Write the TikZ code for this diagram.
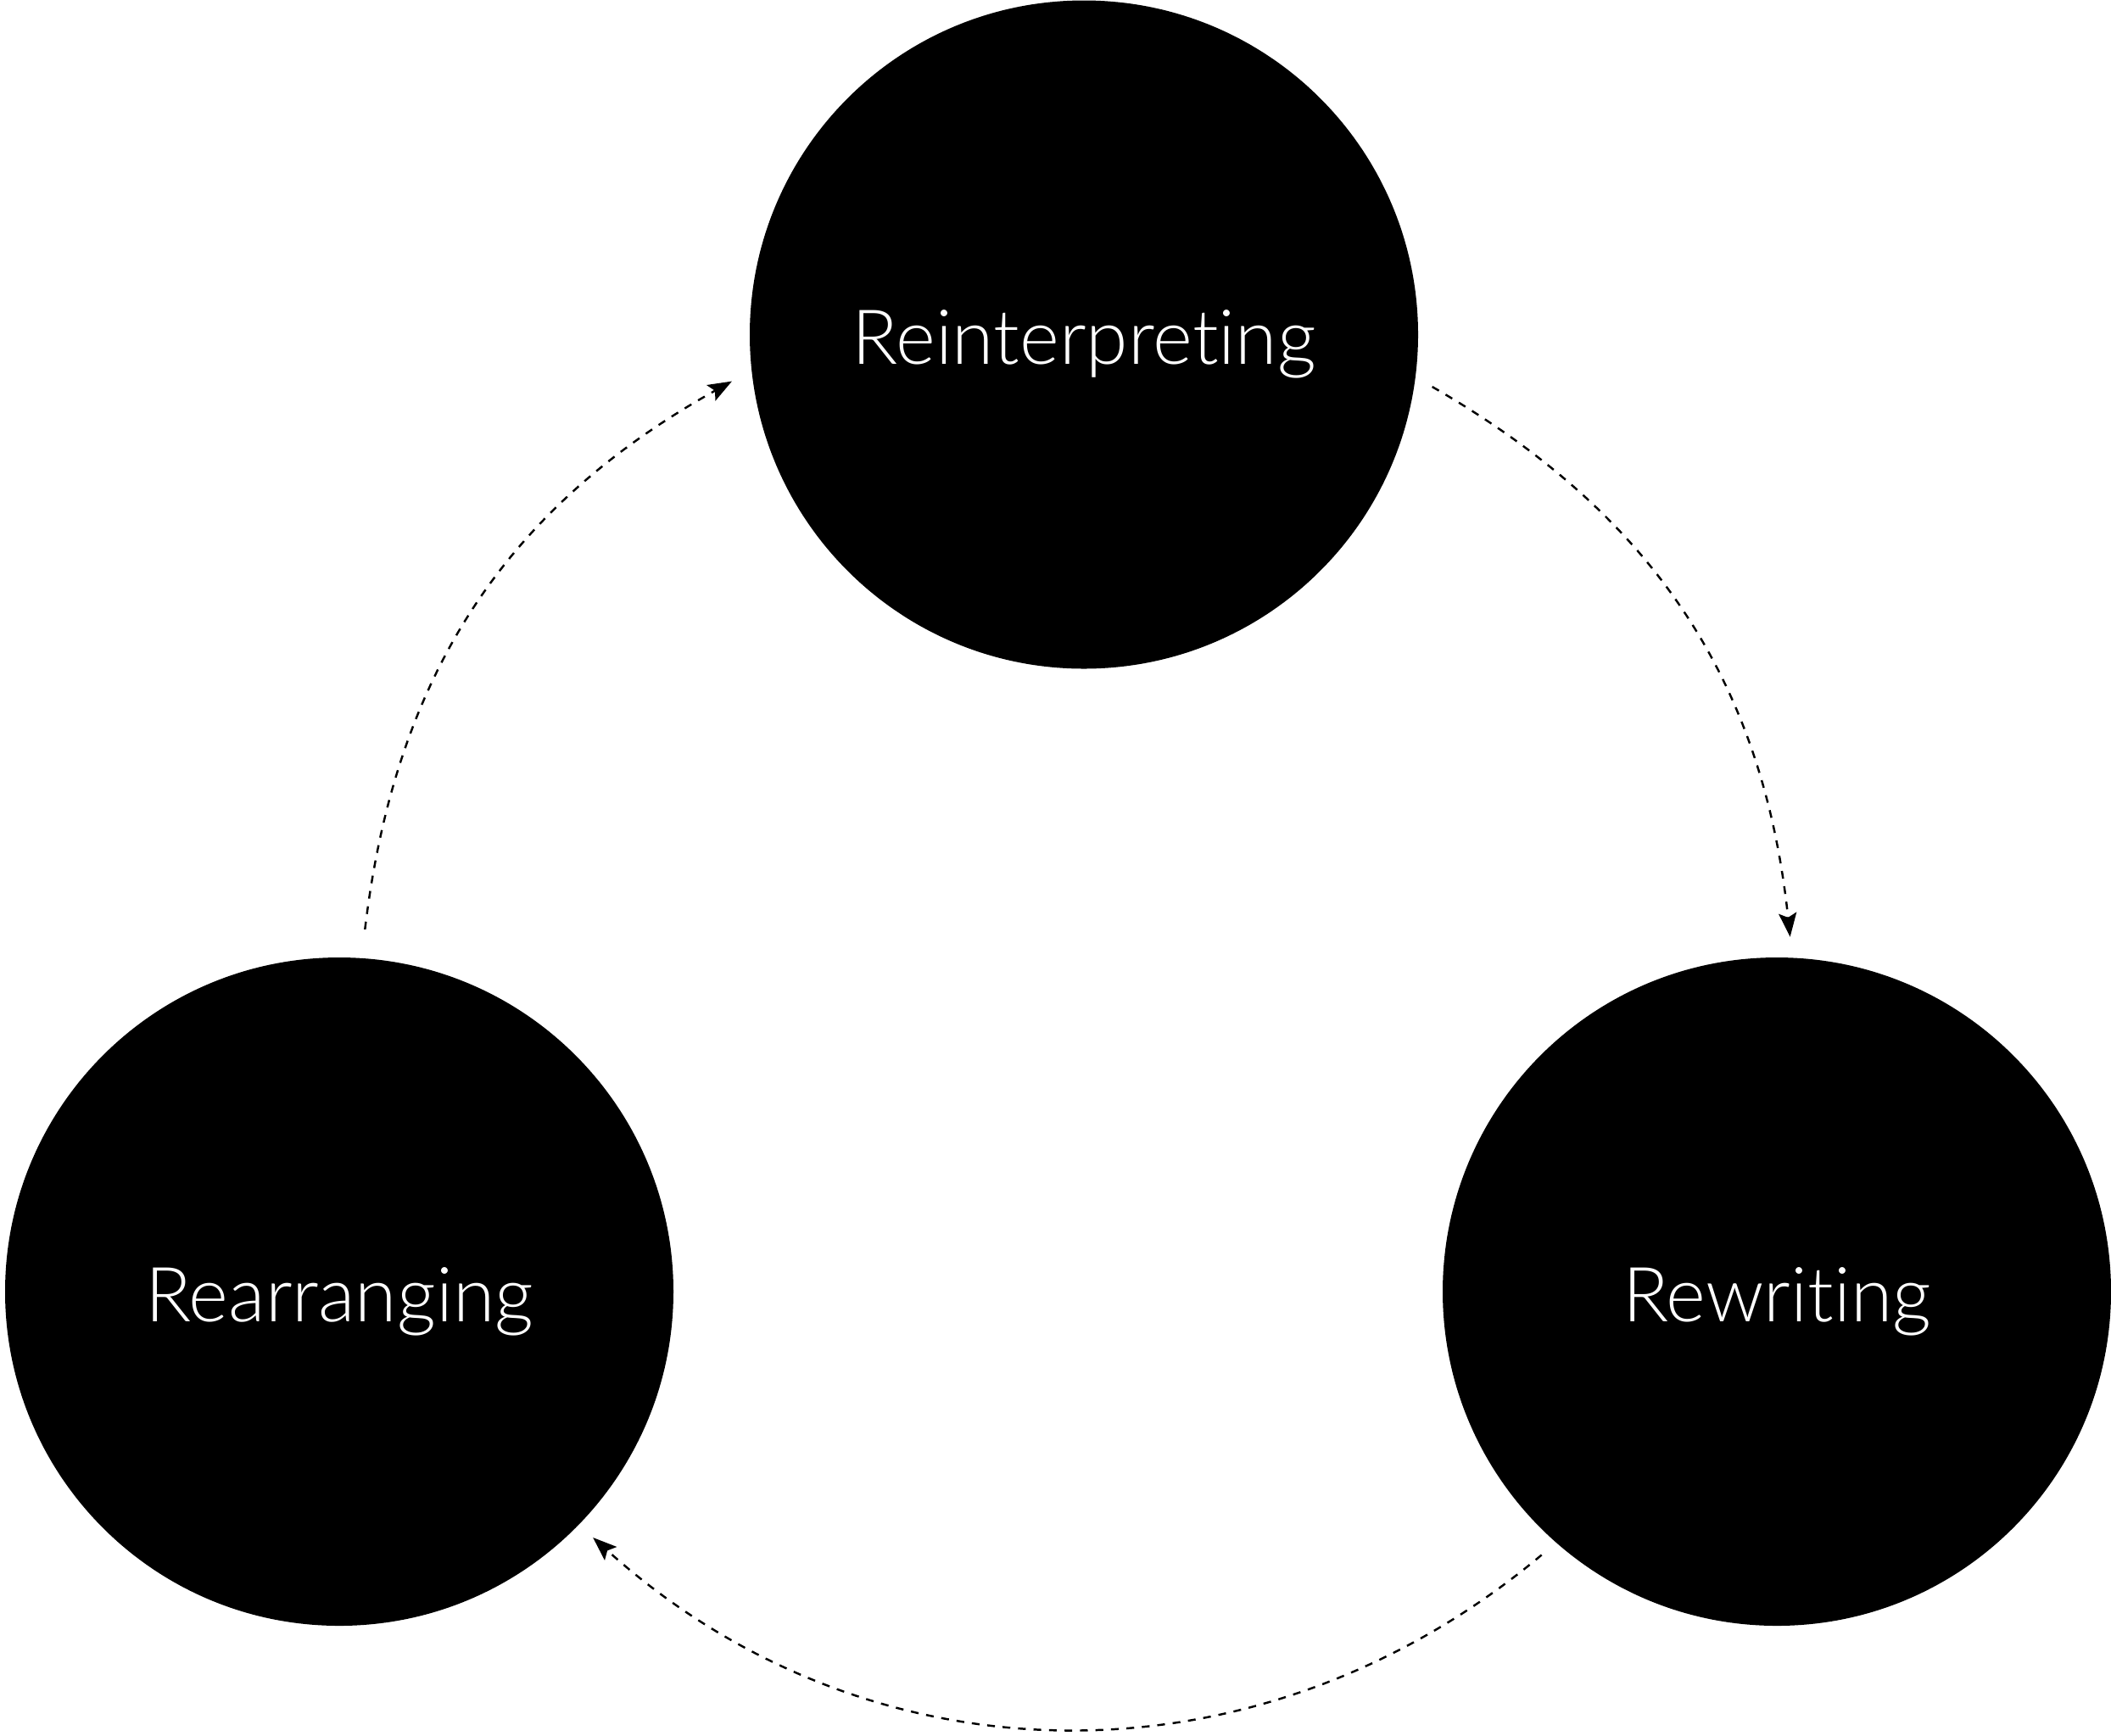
\documentclass[tikz,border=0pt]{standalone}
\usepackage{fontspec}
\newfontfamily\lblfont[Ligatures={NoCommon,NoRare}]{Lato Light}
\usetikzlibrary{arrows.meta}

\begin{document}
\begin{tikzpicture}[
 stage/.style={circle,fill=black,minimum size=7.88cm,inner sep=0pt,text=white,
  font=\lblfont\fontsize{25.5}{30}\selectfont,text height=0.70cm,text depth=0pt},
 flow/.style={line width=0.7pt,dash pattern=on 2.6pt off 2.6pt,
  -{Stealth[length=8pt,width=6pt,inset=1.5pt]}}]
\useasboundingbox (0,0) rectangle (24.89,-20.46);
\node[stage] (reint) at (12.78,-3.945) {Reinterpreting};
\node[stage] (rearr) at (4.00,-15.23) {Rearranging};
\node[stage] (rewr) at (20.95,-15.23) {Rewriting};
% ends of the dashed arcs, on one circle round the hub
\coordinate (hub) at (12.70,-11.90);
\foreach \n/\a in {l1/173.6,l2/118.8,r1/60.3,r2/5.8,b1/-49.6,b2/-132.5} {
\coordinate (\n) at ([shift={(\a:8.45)}]hub);}
\draw[flow] (l1) to[bend left=27] (l2);
\draw[flow] (r1) to[bend left=27] (r2);
\draw[flow] (b1) to[bend left=41] (b2);
\end{tikzpicture}
\end{document}
